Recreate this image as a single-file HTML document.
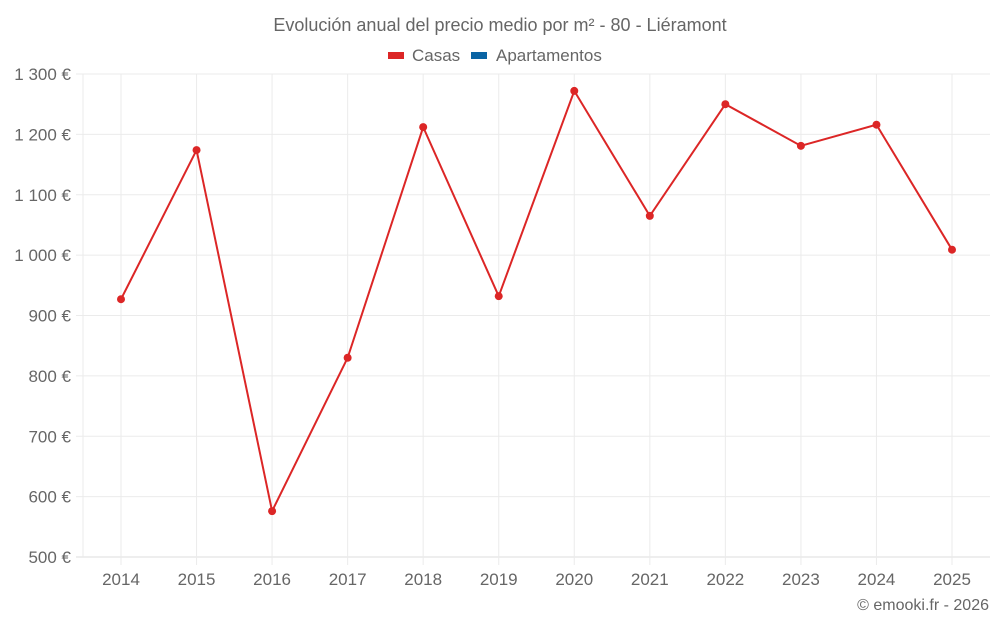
<!DOCTYPE html>
<html><head><meta charset="utf-8"><style>
body{margin:0;background:#fff;font-family:"Liberation Sans",sans-serif;}
svg text{font-family:"Liberation Sans",sans-serif;fill:#666;}
</style></head><body>
<svg id="c" width="1000" height="625">
<text x="500" y="31" text-anchor="middle" font-size="18">Evolución anual del precio medio por m² - 80 - Liéramont</text>
<g>
<g><rect x="388" y="52" width="16" height="7" fill="#dc2626"/><text x="412" y="61" font-size="17">Casas</text></g>
<g><rect x="471" y="52" width="16" height="7" fill="#0a64a4"/><text x="496" y="61" font-size="17">Apartamentos</text></g>
</g>
<g id="grid"></g><g id="axes"></g><g id="series"></g>
<text x="989" y="610" text-anchor="end" font-size="16">© emooki.fr - 2026</text>
</svg>
<script>
const years=["2014","2015","2016","2017","2018","2019","2020","2021","2022","2023","2024","2025"];
const casas=[927,1174,576,830,1212,932,1272,1065,1250,1181,1216,1009];
const yTicks=[500,600,700,800,900,1000,1100,1200,1300];
const yTickLabels=["500 €","600 €","700 €","800 €","900 €","1 000 €","1 100 €","1 200 €","1 300 €"];
const NS="http://www.w3.org/2000/svg";
const L=83,R=990,T=74,B=557;
const x=i=>121+i*(952-121)/(years.length-1);
const y=v=>B-(v-500)/(800)*(B-T);
function mk(tag,at,p){const e=document.createElementNS(NS,tag);for(const k in at)e.setAttribute(k,at[k]);p.appendChild(e);return e;}
const g=document.getElementById('grid'),a=document.getElementById('axes'),s=document.getElementById('series');
yTicks.forEach((v,i)=>{
 const ln=mk('line',{x1:76,x2:R,y1:y(v),y2:y(v),stroke:i==0?'#ddd':'#ebebeb','stroke-width':1},g);
 
 
 const t=mk('text',{x:71,y:y(v)+6,'text-anchor':'end','font-size':17},a);t.textContent=yTickLabels[i];
 
 
});
mk('line',{x1:L,x2:L,y1:T,y2:B,stroke:'#ebebeb'},g);
years.forEach((yr,i)=>{
 const ln=mk('line',{x1:x(i),x2:x(i),y1:T,y2:B+8,stroke:'#ebebeb'},g);
 
 
 const t=mk('text',{x:x(i),y:585,'text-anchor':'middle','font-size':17},a);t.textContent=yr;
 
 
});
const pl=mk('polyline',{points:casas.map((v,i)=>x(i)+','+y(v)).join(' '),fill:'none',stroke:'#dc2626','stroke-width':2},s);


casas.forEach((v,i)=>{
 const c=mk('circle',{cx:x(i),cy:y(v),r:4,fill:'#dc2626'},s);
 
 
});
</script>
</body></html>
